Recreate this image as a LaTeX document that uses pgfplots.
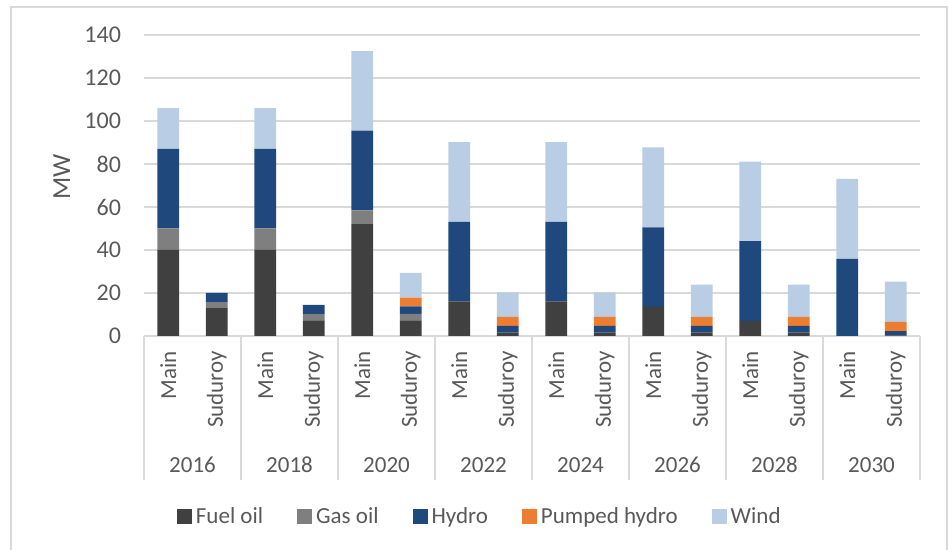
\documentclass[border=0pt]{standalone}
\usepackage{pgfplots}
\pgfplotsset{compat=1.18}
\usepackage{pgfplotstable}
\usepackage{fontspec}
\setmainfont{Carlito}

\definecolor{fueloil}{HTML}{404040}
\definecolor{gasoil}{HTML}{7F7F7F}
\definecolor{hydro}{HTML}{1F497D}
\definecolor{pumped}{HTML}{ED7D31}
\definecolor{wind}{HTML}{B9CDE5}
\definecolor{gridc}{HTML}{D9D9D9}
\definecolor{txt}{HTML}{595959}

% capacity by year and grid (Main / Suduroy), MW
\pgfplotstableread{
x  fuel gas hydro pumped wind
0  40   10  37    0      19
1  13   2.8 4.2   0      0
2  40   10  37    0      19
3  7.3  2.9 4.3   0      0
4  52   6.4 37.1  0      37
5  7.3  3   3.5   4      11.6
6  16.1 0   37    0      37.1
7  1.6  0   3.1   4.2    11.4
8  16.1 0   37    0      37.1
9  1.6  0   3.1   4.2    11.4
10 13.6 0   36.9  0      37.2
11 1.6  0   3.1   4.2    15
12 7    0   37.1  0      37
13 1.6  0   3.1   4.2    15
14 0    0   35.9  0      37.2
15 0.3  0   2     4.3    18.7
}\mwdata

\begin{document}
\begin{tikzpicture}
\useasboundingbox (-72pt,-107pt) rectangle (403pt,168pt);
\draw[gridc, line width=0.75pt] (-66.5pt,-110pt) -- (-66.5pt,164.5pt) -- (401.5pt,164.5pt) -- (401.5pt,-110pt);
\begin{axis}[
    scale only axis,
    width=388pt, height=150.5pt,
    xmin=-0.5, xmax=15.5,
    ymin=0, ymax=140,
    ybar stacked,
    bar width=10.85pt,
    axis lines=left,
    axis line style={draw=none},
    major tick length=0pt,
    ytick={0,20,...,140},
    ymajorgrids,
    grid style={gridc, line width=0.75pt},
    xtick={0,...,15},
    xticklabels={Main,Suduroy,Main,Suduroy,Main,Suduroy,Main,Suduroy,
                 Main,Suduroy,Main,Suduroy,Main,Suduroy,Main,Suduroy},
    xticklabel style={rotate=90, anchor=east, font=\fontsize{11.5}{13}\selectfont, text=txt},
    xticklabel shift=4pt,
    yticklabel style={font=\fontsize{12}{14}\selectfont, text=txt},
    yticklabel shift=8pt,
    /pgf/number format/assume math mode=true,
    ylabel={MW},
    ylabel style={at={(axis description cs:-0.106,0.528)}, anchor=center,
                  font=\fontsize{13}{15}\selectfont, text=txt},
    legend columns=5,
    legend style={draw=none, at={(0.434,-0.601)}, anchor=center,
                  font=\fontsize{11.5}{13}\selectfont, text=txt,
                  /tikz/every even column/.append style={column sep=15pt}},
    legend image code/.code={\fill[#1] (0pt,-3.75pt) rectangle (7.5pt,3.75pt);},
    clip=false,
]
\addplot[fill=fueloil, draw=none] table[x=x, y=fuel] {\mwdata};
\addlegendentry{Fuel oil}
\addplot[fill=gasoil, draw=none] table[x=x, y=gas] {\mwdata};
\addlegendentry{Gas oil}
\addplot[fill=hydro, draw=none] table[x=x, y=hydro] {\mwdata};
\addlegendentry{Hydro}
\addplot[fill=pumped, draw=none] table[x=x, y=pumped] {\mwdata};
\addlegendentry{Pumped hydro}
\addplot[fill=wind, draw=none] table[x=x, y=wind] {\mwdata};
\addlegendentry{Wind}
\end{axis}
% year groups under the bars
\foreach \k in {0,...,8} {
  \draw[gridc, line width=0.75pt] (48.5*\k pt,0pt) -- (48.5*\k pt,-72pt);
}
\foreach \yr [count=\k from 0] in {2016,2018,2020,2022,2024,2026,2028,2030} {
  \node[text=txt, font=\fontsize{11.5}{13}\selectfont] at (48.5*\k pt+24.25pt,-64.5pt) {\yr};
}
\end{tikzpicture}
\end{document}
